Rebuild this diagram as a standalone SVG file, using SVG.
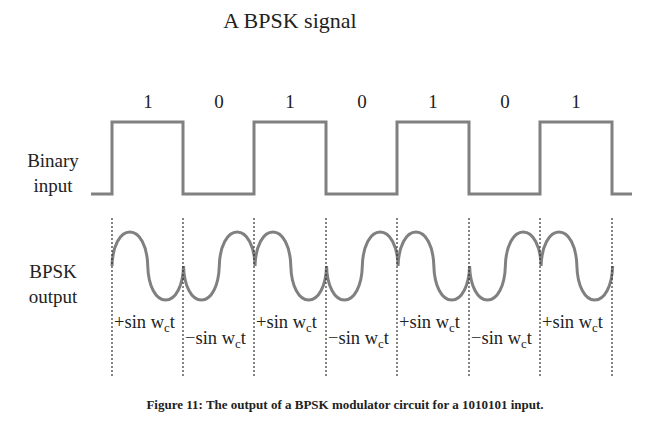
<svg xmlns="http://www.w3.org/2000/svg" width="659" height="430" viewBox="0 0 659 430">
<style>
.t{font-family:"Liberation Serif","Times New Roman","DejaVu Serif",serif;fill:#222}
.w{fill:none;stroke:#808080;stroke-width:3}
.d{stroke:#333;stroke-width:1.2;stroke-dasharray:2 2}
</style>
<rect width="659" height="430" fill="#fff"/>
<text class="t" x="290" y="28" font-size="22" text-anchor="middle">A BPSK signal</text>
<g id="bits" class="t" font-size="19" text-anchor="middle">
<text x="148" y="108">1</text><text x="219" y="108">0</text><text x="290" y="108">1</text><text x="362" y="108">0</text><text x="433" y="108">1</text><text x="505" y="108">0</text><text x="576" y="108">1</text>
</g>
<g id="labels" class="t" font-size="19" text-anchor="middle">
<text x="53" y="167">Binary</text><text x="53" y="192">input</text>
<text x="53" y="278">BPSK</text><text x="53" y="303">output</text>
</g>
<g id="binary"><path class="w" d="M91 194H112V122H183V194H254V122H326V194H397V122H469V194H540V122H612V194H632"/></g>
<g id="bpsk"><path class="w" d="M112 266
c0.5 -20 8 -34 17.88 -34 c9.88 0 17.38 14 17.88 34 c0.5 20 8 34 17.88 34 c9.88 0 17.38 -14 17.88 -34
c0.5 20 8 34 17.88 34 c9.88 0 17.38 -14 17.88 -34 c0.5 -20 8 -34 17.88 -34 c9.88 0 17.38 14 17.88 34
c0.5 -20 8 -34 17.88 -34 c9.88 0 17.38 14 17.88 34 c0.5 20 8 34 17.88 34 c9.88 0 17.38 -14 17.88 -34
c0.5 20 8 34 17.88 34 c9.88 0 17.38 -14 17.88 -34 c0.5 -20 8 -34 17.88 -34 c9.88 0 17.38 14 17.88 34
c0.5 -20 8 -34 17.88 -34 c9.88 0 17.38 14 17.88 34 c0.5 20 8 34 17.88 34 c9.88 0 17.38 -14 17.88 -34
c0.5 20 8 34 17.88 34 c9.88 0 17.38 -14 17.88 -34 c0.5 -20 8 -34 17.88 -34 c9.88 0 17.38 14 17.88 34
c0.5 -20 8 -34 17.88 -34 c9.88 0 17.38 14 17.88 34 c0.5 20 8 34 17.88 34 c9.88 0 17.38 -14 17.88 -34"/></g>
<g id="dividers">
<line class="d" x1="112" y1="218" x2="112" y2="378"/><line class="d" x1="183" y1="218" x2="183" y2="378"/><line class="d" x1="254" y1="218" x2="254" y2="378"/><line class="d" x1="326" y1="218" x2="326" y2="378"/><line class="d" x1="397" y1="218" x2="397" y2="378"/><line class="d" x1="469" y1="218" x2="469" y2="378"/><line class="d" x1="540" y1="218" x2="540" y2="378"/><line class="d" x1="612" y1="218" x2="612" y2="378"/>
</g>
<g id="terms" class="t" font-size="18.5">
<text x="114" y="328">+sin w<tspan font-size="13" dy="4">c</tspan><tspan dy="-4">t</tspan></text>
<text x="185" y="344">−sin w<tspan font-size="13" dy="4">c</tspan><tspan dy="-4">t</tspan></text>
<text x="256" y="328">+sin w<tspan font-size="13" dy="4">c</tspan><tspan dy="-4">t</tspan></text>
<text x="328" y="344">−sin w<tspan font-size="13" dy="4">c</tspan><tspan dy="-4">t</tspan></text>
<text x="399" y="328">+sin w<tspan font-size="13" dy="4">c</tspan><tspan dy="-4">t</tspan></text>
<text x="471" y="344">−sin w<tspan font-size="13" dy="4">c</tspan><tspan dy="-4">t</tspan></text>
<text x="542" y="328">+sin w<tspan font-size="13" dy="4">c</tspan><tspan dy="-4">t</tspan></text>
</g>
<text class="t" x="345" y="409" font-size="13" font-weight="bold" text-anchor="middle" fill="#000">Figure 11:  The output of a BPSK modulator circuit for a 1010101 input.</text>
</svg>
